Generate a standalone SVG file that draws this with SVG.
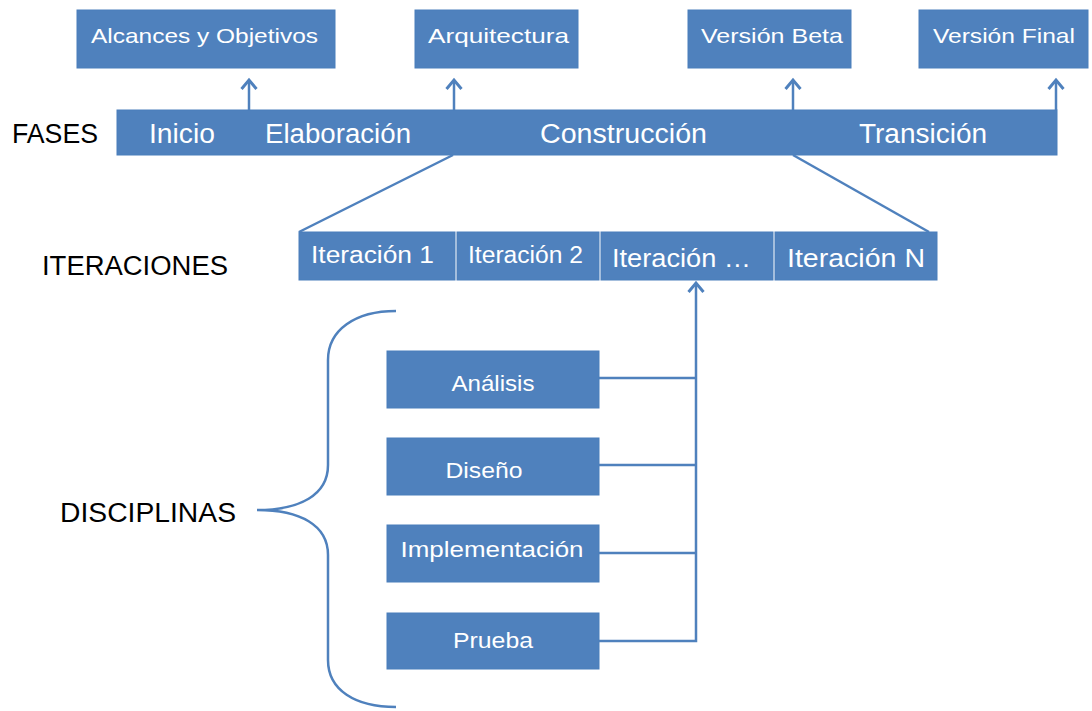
<svg xmlns="http://www.w3.org/2000/svg" width="1092" height="711" viewBox="0 0 1092 711">
<defs>
<marker id="arr" viewBox="0 0 14 18" refX="11" refY="9" markerWidth="14" markerHeight="18" markerUnits="userSpaceOnUse" orient="auto">
<polyline points="2,1.5 11,9 2,16.5" fill="none" stroke="#4F81BD" stroke-width="3"/>
</marker>
</defs>
<style>
.box{fill:#4F81BD;stroke:#4A7EBB;stroke-width:1}
.wt{fill:#ffffff;font-family:"Liberation Sans",Arial,sans-serif}
.bk{fill:#000000;font-family:"Liberation Sans",Arial,sans-serif;font-size:27px}
.ln{fill:none;stroke:#4F81BD;stroke-width:2.5}
.ar{fill:none;stroke:#4F81BD;stroke-width:2.5;marker-end:url(#arr)}
</style>
<rect width="1092" height="711" fill="#ffffff"/>

<g id="labels">
<text class="bk" x="12" y="143" textLength="86" lengthAdjust="spacingAndGlyphs">FASES</text>
<text class="bk" x="42" y="275" textLength="186" lengthAdjust="spacingAndGlyphs">ITERACIONES</text>
<text class="bk" x="60" y="522" textLength="176" lengthAdjust="spacingAndGlyphs">DISCIPLINAS</text>
</g>

<g id="alcances">
<rect class="box" x="77" y="10" width="258" height="58"/>
<text class="wt" x="91" y="43" font-size="21" textLength="227" lengthAdjust="spacingAndGlyphs">Alcances y Objetivos</text>
</g>
<g id="arquitectura">
<rect class="box" x="415" y="10" width="163" height="58"/>
<text class="wt" x="428" y="43" font-size="21" textLength="141" lengthAdjust="spacingAndGlyphs">Arquitectura</text>
</g>
<g id="version-beta">
<rect class="box" x="688" y="10" width="163" height="58"/>
<text class="wt" x="701" y="43" font-size="21" textLength="142" lengthAdjust="spacingAndGlyphs">Versión Beta</text>
</g>
<g id="version-final">
<rect class="box" x="919" y="10" width="169" height="58"/>
<text class="wt" x="933" y="43" font-size="21" textLength="142" lengthAdjust="spacingAndGlyphs">Versión Final</text>
</g>

<g id="fases">
<rect class="box" x="117" y="110" width="940" height="45"/>
<text class="wt" x="149" y="143" font-size="27" textLength="66" lengthAdjust="spacingAndGlyphs">Inicio</text>
<text class="wt" x="265" y="143" font-size="27" textLength="146" lengthAdjust="spacingAndGlyphs">Elaboración</text>
<text class="wt" x="540" y="143" font-size="27" textLength="167" lengthAdjust="spacingAndGlyphs">Construcción</text>
<text class="wt" x="859" y="143" font-size="27" textLength="128" lengthAdjust="spacingAndGlyphs">Transición</text>
</g>

<g id="iteracion-1">
<rect class="box" x="299" y="232" width="156" height="48"/>
<text class="wt" x="311" y="263" font-size="23" textLength="123" lengthAdjust="spacingAndGlyphs">Iteración  1</text>
</g>
<g id="iteracion-2">
<rect class="box" x="457" y="232" width="142" height="48"/>
<text class="wt" x="468" y="263" font-size="23" textLength="115" lengthAdjust="spacingAndGlyphs">Iteración 2</text>
</g>
<g id="iteracion-dots">
<rect class="box" x="601" y="232" width="172" height="48"/>
<text class="wt" x="612" y="267" font-size="26" textLength="139" lengthAdjust="spacingAndGlyphs">Iteración …</text>
</g>
<g id="iteracion-n">
<rect class="box" x="775" y="232" width="162" height="48"/>
<text class="wt" x="787" y="267" font-size="26" textLength="138" lengthAdjust="spacingAndGlyphs">Iteración N</text>
</g>

<g id="analisis">
<rect class="box" x="387" y="351" width="212" height="57"/>
<text class="wt" x="493" y="391" font-size="22" text-anchor="middle" textLength="83" lengthAdjust="spacingAndGlyphs">Análisis</text>
</g>
<g id="diseno">
<rect class="box" x="387" y="438" width="212" height="57"/>
<text class="wt" x="484" y="478" font-size="22" text-anchor="middle" textLength="77" lengthAdjust="spacingAndGlyphs">Diseño</text>
</g>
<g id="implementacion">
<rect class="box" x="387" y="525" width="212" height="57"/>
<text class="wt" x="492" y="557" font-size="22" text-anchor="middle" textLength="183" lengthAdjust="spacingAndGlyphs">Implementación</text>
</g>
<g id="prueba">
<rect class="box" x="387" y="613" width="212" height="56"/>
<text class="wt" x="493" y="648" font-size="22" text-anchor="middle" textLength="80" lengthAdjust="spacingAndGlyphs">Prueba</text>
</g>

<g id="connectors">
<line class="ar" x1="249" y1="110" x2="249" y2="80"/>
<line class="ar" x1="454" y1="110" x2="454" y2="80"/>
<line class="ar" x1="793" y1="110" x2="793" y2="80"/>
<line class="ar" x1="1056" y1="110" x2="1056" y2="80"/>
<line class="ln" x1="453" y1="155" x2="299" y2="232"/>
<line class="ln" x1="793" y1="155" x2="929" y2="232"/>
<path class="ln" d="M599,378 H696 M599,465 H696 M599,553 H696"/>
<path class="ar" d="M599,641 H696 V283"/>
<path class="ln" d="M396,311 C355,311 328,330 328,360 V465 C328,495 300,510 257,510 C300,510 328,525 328,555 V660 C328,690 355,707 396,707"/>
</g>
</svg>
